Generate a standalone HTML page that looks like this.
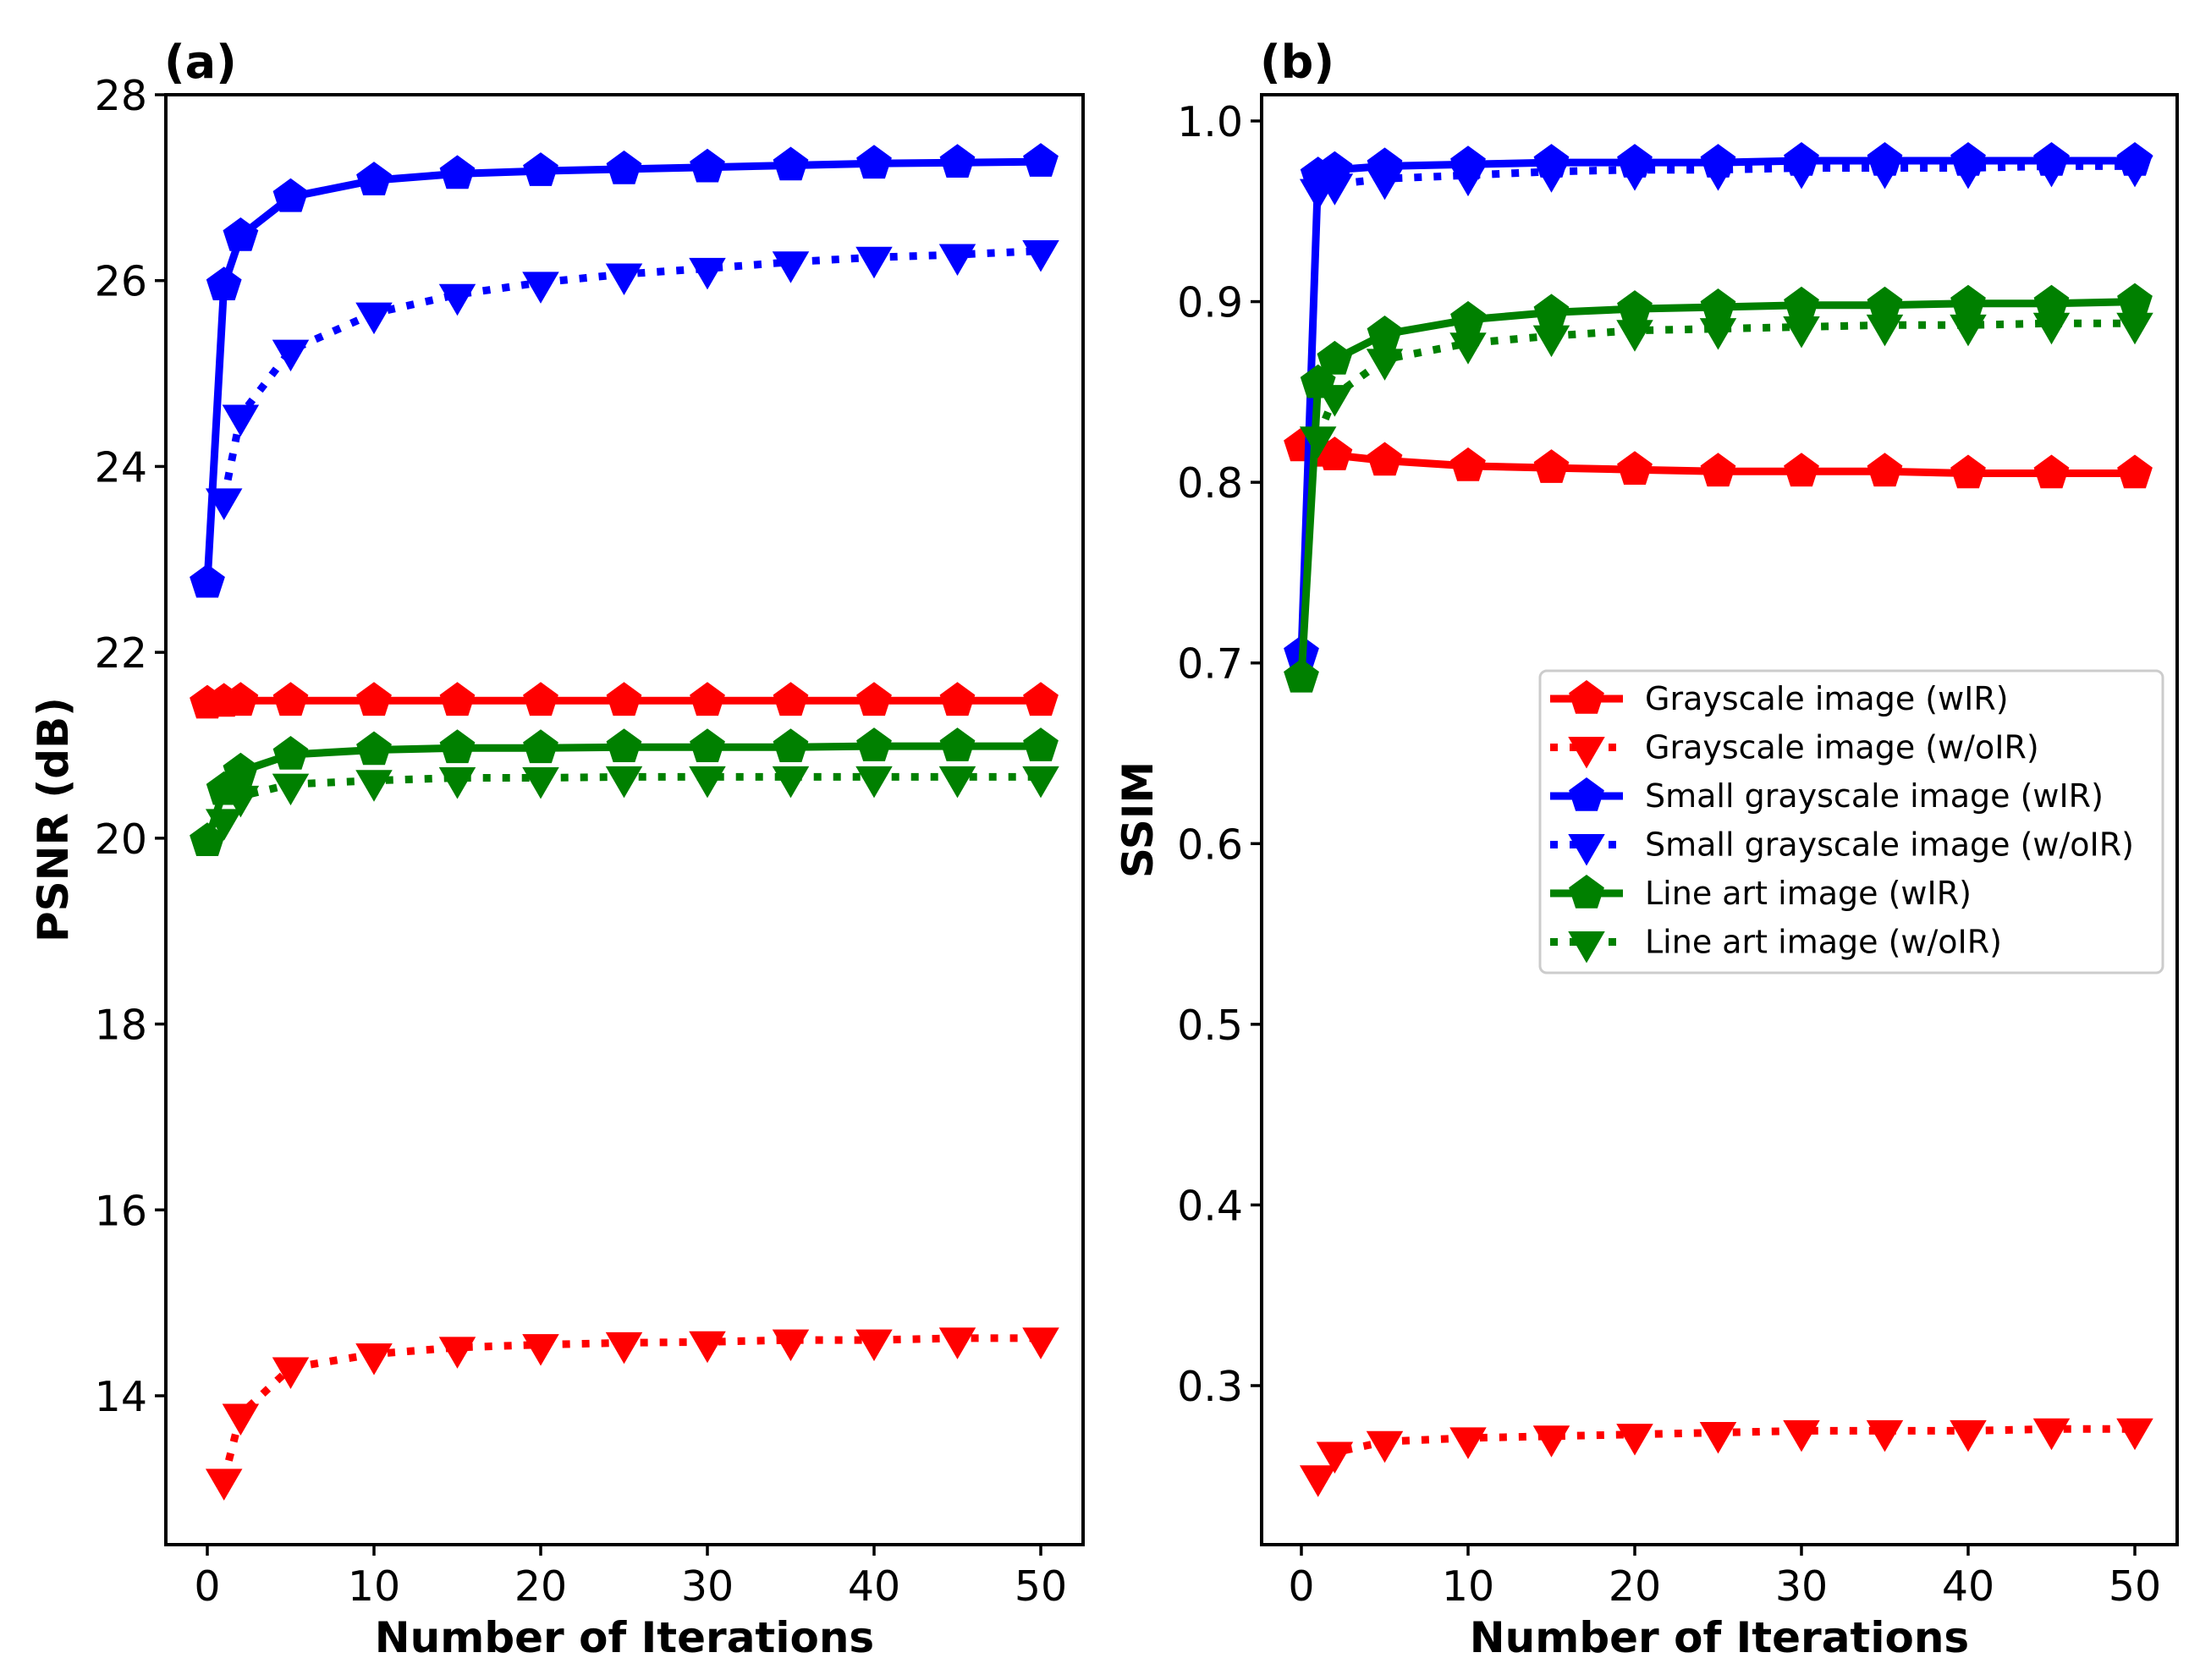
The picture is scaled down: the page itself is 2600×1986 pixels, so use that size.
<!DOCTYPE html>
<html><head><meta charset="utf-8"><style>
html,body{margin:0;padding:0;background:#fff}
svg{display:block;font-family:"DejaVu Sans","Liberation Sans",sans-serif}
</style></head><body>
<svg id="fig" width="2600" height="1986" viewBox="0 0 2600 1986" xmlns="http://www.w3.org/2000/svg">
<rect width="2600" height="1986" fill="#fff"/>
</svg>
<script>
const iters = [0,1,2,5,10,15,20,25,30,35,40,45,50];
const itersWo = [1,2,5,10,15,20,25,30,35,40,45,50];
// PSNR (a)
const psnrGrayW = [21.45,21.47,21.48,21.48,21.48,21.48,21.48,21.48,21.48,21.48,21.48,21.48,21.48];
const psnrGrayWo = [13.1,13.8,14.3,14.45,14.52,14.55,14.57,14.58,14.6,14.6,14.62,14.62];
const psnrSmallW = [22.75,25.95,26.48,26.9,27.08,27.15,27.18,27.2,27.22,27.24,27.26,27.27,27.28];
const psnrSmallWo = [23.65,24.55,25.25,25.65,25.85,25.98,26.07,26.13,26.2,26.25,26.28,26.32];
const psnrLineW = [19.97,20.52,20.72,20.9,20.95,20.97,20.97,20.98,20.98,20.98,20.99,20.99,20.99];
const psnrLineWo = [20.2,20.45,20.58,20.62,20.65,20.65,20.66,20.66,20.66,20.66,20.66,20.66];
// SSIM (b)
const ssimGrayW = [0.82,0.817,0.815,0.812,0.809,0.808,0.807,0.806,0.806,0.806,0.805,0.805,0.805];
const ssimGrayWo = [0.25,0.263,0.269,0.271,0.272,0.273,0.274,0.275,0.275,0.275,0.276,0.276];
const ssimSmallW = [0.705,0.970,0.973,0.975,0.976,0.977,0.977,0.977,0.978,0.978,0.978,0.978,0.978];
const ssimSmallWo = [0.962,0.965,0.968,0.970,0.972,0.973,0.973,0.974,0.974,0.974,0.975,0.975,0.975];
const ssimLineW = [0.692,0.855,0.868,0.882,0.89,0.894,0.896,0.897,0.898,0.898,0.899,0.899,0.9];
const ssimLineWo = [0.825,0.848,0.868,0.877,0.881,0.884,0.885,0.886,0.887,0.887,0.888,0.888,0.889];
const xTicks = [0,10,20,30,40,50];
const psnrTicks = [14,16,18,20,22,24,26,28];
const ssimTicks = [0.3,0.4,0.5,0.6,0.7,0.8,0.9,1.0];
const legendLabels = ["Grayscale image (wIR)","Grayscale image (w/oIR)","Small grayscale image (wIR)","Small grayscale image (w/oIR)","Line art image (wIR)","Line art image (w/oIR)"];

const NS="http://www.w3.org/2000/svg";
const svg=document.getElementById('fig');
function el(tag,attrs,parent){const e=document.createElementNS(NS,tag);for(const k in attrs)e.setAttribute(k,attrs[k]);(parent||svg).appendChild(e);return e;}

function pentagon(cx,cy,r){let p=[];for(let i=0;i<5;i++){const a=-Math.PI/2+i*2*Math.PI/5;p.push((cx+r*Math.cos(a)).toFixed(1)+','+(cy+r*Math.sin(a)).toFixed(1));}return p.join(' ');}
function tri(cx,cy,r){return `${cx-r*0.87},${cy-r*0.5} ${cx+r*0.87},${cy-r*0.5} ${cx},${cy+r}`;}

function panel(cfg){
  const g=el('g',{});
  
  
  const xs=v=>cfg.x0+(v-0)*(cfg.x50-cfg.x0)/50;
  const ys=v=>cfg.yA+(v-cfg.vA)*(cfg.yB-cfg.yA)/(cfg.vB-cfg.vA);
  xTicks.forEach(t=>{
    const l=el('line',{x1:xs(t),x2:xs(t),y1:cfg.bottom,y2:cfg.bottom+13,stroke:'#000','stroke-width':3.5},g);
    
    const tx=el('text',{x:xs(t),y:cfg.bottom+66,'font-size':49,'text-anchor':'middle'},g);tx.textContent=t;
    
  });
  cfg.ticks.forEach(t=>{
    const y=ys(t);
    const l=el('line',{x1:cfg.left-13,x2:cfg.left,y1:y,y2:y,stroke:'#000','stroke-width':3.5},g);
    
    const tx=el('text',{x:cfg.left-22,y:y+18,'font-size':49,'text-anchor':'end'},g);tx.textContent=cfg.fmt(t);
    
  });
  cfg.series.forEach(s=>{
    const xsArr=s.wo?itersWo:iters;
    const pts=s.data.map((v,i)=>xs(xsArr[i]).toFixed(1)+','+ys(v).toFixed(1)).join(' ');
    const pl=el('polyline',{points:pts,fill:'none',stroke:s.c,'stroke-width':9,'stroke-linejoin':'round','stroke-dasharray':s.wo?'9 14':'none'},g);
    
    s.data.forEach((v,i)=>{
      const cx=xs(xsArr[i]),cy=ys(v);
      const m=el('polygon',{points:s.wo?tri(cx,cy,25):pentagon(cx,cy,22),fill:s.c},g);
      
    });
  });
  const fr=el('rect',{x:cfg.left,y:cfg.top,width:cfg.right-cfg.left,height:cfg.bottom-cfg.top,fill:'none',stroke:'#000','stroke-width':4},g);
  
  const xl=el('text',{x:(cfg.left+cfg.right)/2,y:1953,'font-size':50,'font-weight':'bold','text-anchor':'middle'},g);xl.textContent='Number of Iterations';
  
  const yl=el('text',{x:0,y:0,'font-size':50,'font-weight':'bold','text-anchor':'middle',transform:`translate(${cfg.ylx},${(cfg.top+cfg.bottom)/2}) rotate(-90)`},g);yl.textContent=cfg.ylabel;
  
  const pt=el('text',{x:cfg.left-2,y:cfg.top-20,'font-size':54,'font-weight':'bold'},g);pt.textContent=cfg.tag;
  
}

panel({name:'psnr-panel',left:196,right:1280,top:112,bottom:1826,x0:245,x50:1230,yA:112,vA:28,yB:1650,vB:14,ticks:psnrTicks,fmt:t=>t,ylabel:'PSNR (dB)',ylx:80,tag:'(a)',
 series:[{n:'gray-wir',c:'#ff0000',data:psnrGrayW},{n:'gray-woir',c:'#ff0000',wo:1,data:psnrGrayWo},{n:'small-wir',c:'#0000ff',data:psnrSmallW},{n:'small-woir',c:'#0000ff',wo:1,data:psnrSmallWo},{n:'line-wir',c:'#008000',data:psnrLineW},{n:'line-woir',c:'#008000',wo:1,data:psnrLineWo}]});
panel({name:'ssim-panel',left:1491,right:2573,top:112,bottom:1826,x0:1538,x50:2523,yA:143,vA:1.0,yB:1638,vB:0.3,ticks:ssimTicks,fmt:t=>t.toFixed(1),ylabel:'SSIM',ylx:1362,tag:'(b)',
 series:[{n:'gray-wir',c:'#ff0000',data:ssimGrayW},{n:'gray-woir',c:'#ff0000',wo:1,data:ssimGrayWo},{n:'small-wir',c:'#0000ff',data:ssimSmallW},{n:'small-woir',c:'#0000ff',wo:1,data:ssimSmallWo},{n:'line-wir',c:'#008000',data:ssimLineW},{n:'line-woir',c:'#008000',wo:1,data:ssimLineWo}]});

const lg=el('g',{});


el('rect',{x:1820,y:793,width:736,height:357,rx:8,fill:'#fff',stroke:'#ccc','stroke-width':3},lg);
const cols=['#ff0000','#ff0000','#0000ff','#0000ff','#008000','#008000'];
legendLabels.forEach((lab,i)=>{
  const y=826+i*57.5, wo=i%2===1;
  const e=el('g',{},lg);
  
  
  el('line',{x1:1832,x2:1918,y1:y,y2:y,stroke:cols[i],'stroke-width':9,'stroke-dasharray':wo?'9 14':'none'},e);
  el('polygon',{points:wo?tri(1875,y,25):pentagon(1875,y,22),fill:cols[i]},e);
  const t=el('text',{x:1944,y:y+13,'font-size':38},e);t.textContent=lab;
});
</script>
</body></html>
